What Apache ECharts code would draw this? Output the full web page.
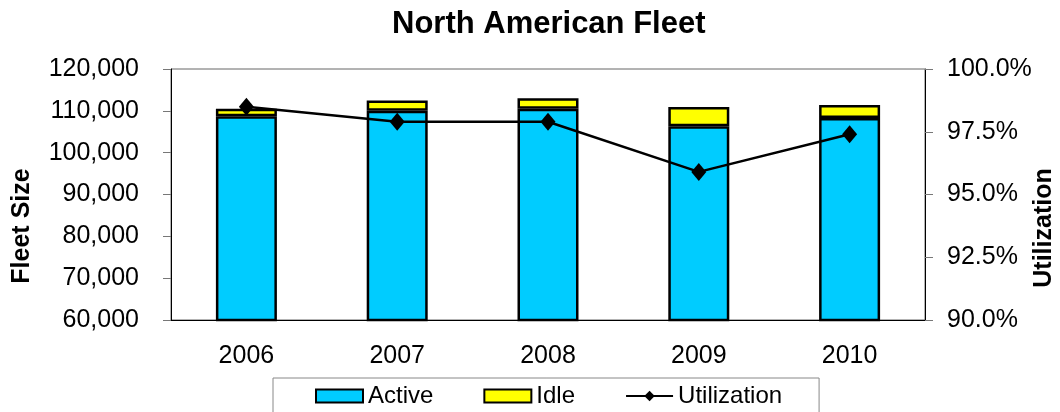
<!DOCTYPE html>
<html>
<head>
<meta charset="utf-8">
<script src="https://cdn.jsdelivr.net/npm/echarts@6/dist/echarts.min.js"></script>
<style>
  html, body { margin: 0; padding: 0; background: #fff; }
  #chart { width: 1060px; height: 412px; }
</style>
</head>
<body>
<div id="chart"></div>
<script>
// data
const years = ['2006', '2007', '2008', '2009', '2010'];
const active = [108700, 110000, 110500, 106300, 108300];
const idle = [1800, 2500, 2500, 4600, 3100];
const utilization = [98.5, 97.9, 97.9, 95.9, 97.4];

const font = 'Liberation Sans, Arial, sans-serif';

const chart = echarts.init(document.getElementById('chart'));
chart.setOption({
  animation: false,
  textStyle: { fontFamily: font },
  title: {
    text: 'North American Fleet',
    left: 387,
    top: 4,
    textStyle: { fontSize: 31, fontWeight: 'bold', color: '#000', fontFamily: font }
  },
  grid: {
    left: 171, right: 135, top: 69, bottom: 92,
    show: true, borderColor: '#666', borderWidth: 1
  },
  legend: {
    left: 273,
    top: 378,
    padding: [6, 37, 20, 42],
    itemGap: 50,
    itemWidth: 47,
    itemHeight: 13,
    borderColor: '#888',
    borderWidth: 1,
    textStyle: { fontSize: 24, color: '#000', fontFamily: font },
    data: [
      { name: 'Active', icon: 'rect' },
      { name: 'Idle', icon: 'rect' },
      { name: 'Utilization' }
    ]
  },
  xAxis: {
    type: 'category',
    data: years,
    axisLine: { lineStyle: { color: '#000', width: 1 } },
    axisTick: { length: 8, lineStyle: { color: '#555' } },
    axisLabel: { fontSize: 25, color: '#000', margin: 24 }
  },
  yAxis: [
    {
      type: 'value',
      min: 60000, max: 120000, interval: 10000,
      splitLine: { show: false },
      axisLine: { show: true, lineStyle: { color: '#000' } },
      axisTick: { show: true, length: 8, lineStyle: { color: '#777' } },
      axisLabel: {
        fontSize: 25, color: '#000', margin: 32,
        formatter: v => v.toLocaleString('en-US')
      }
    },
    {
      type: 'value',
      min: 90, max: 100, interval: 2.5,
      splitLine: { show: false },
      axisLine: { show: true, lineStyle: { color: '#000' } },
      axisTick: { show: true, length: 8, lineStyle: { color: '#777' } },
      axisLabel: {
        fontSize: 25, color: '#000', margin: 22,
        formatter: v => v.toFixed(1) + '%'
      }
    }
  ],
  graphic: [
    {
      type: 'text', x: 22, y: 226, rotation: Math.PI / 2,
      style: { text: 'Fleet Size', font: 'bold 25px ' + font, fill: '#000', align: 'center', verticalAlign: 'middle' }
    },
    {
      type: 'text', x: 1044, y: 228, rotation: Math.PI / 2,
      style: { text: 'Utilization', font: 'bold 25px ' + font, fill: '#000', align: 'center', verticalAlign: 'middle' }
    }
  ],
  series: [
    {
      name: 'Active', type: 'bar', stack: 'fleet', barWidth: 61,
      itemStyle: { color: '#00CCFF', borderColor: '#000', borderWidth: 2.5 },
      data: active
    },
    {
      name: 'Idle', type: 'bar', stack: 'fleet', barWidth: 61,
      itemStyle: { color: '#FFFF00', borderColor: '#000', borderWidth: 2.5 },
      data: idle
    },
    {
      name: 'Utilization', type: 'line', yAxisIndex: 1,
      symbol: 'diamond', symbolSize: [15, 18],
      lineStyle: { color: '#000', width: 2.5 },
      itemStyle: { color: '#000' },
      data: utilization
    }
  ]
});
</script>
</body>
</html>
